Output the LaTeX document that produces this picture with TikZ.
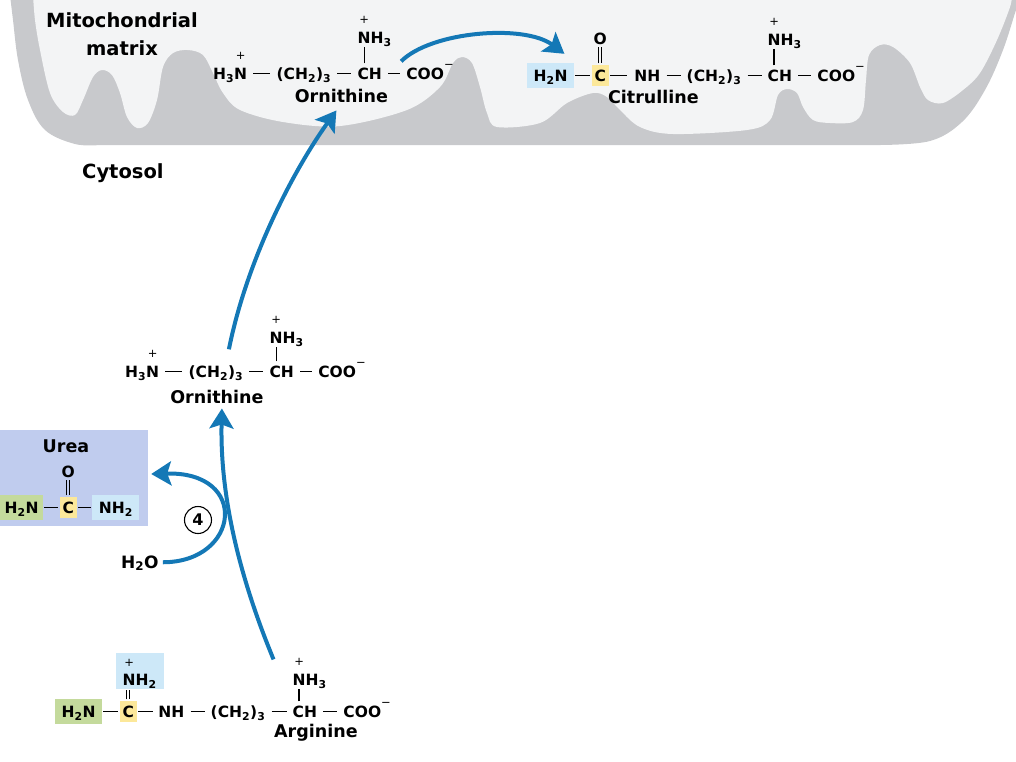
\documentclass[tikz,border=0pt]{standalone}
\usepackage{fontspec}
\setmainfont{DejaVu Sans}
\usepackage{tikz}
\usetikzlibrary{positioning,arrows.meta,calc}
\definecolor{arrowblue}{RGB}{20,120,182}
\definecolor{membrane}{RGB}{200,201,204}
\definecolor{matrixbg}{RGB}{243,244,245}
\definecolor{hlblue}{RGB}{205,232,248}
\definecolor{hlyellow}{RGB}{252,232,154}
\definecolor{hlgreen}{RGB}{196,218,156}
\definecolor{ureabg}{RGB}{192,204,238}
% charge set over a letter, and the anion sign
\newcommand\chg[2]{\ooalign{#1\cr\hidewidth\raisebox{19.5pt}{\fontsize{11.5}{11.5}\mdseries#2}\hidewidth\cr}}
\newcommand\anion{\raisebox{11pt}{\fontsize{11.5}{11.5}\mdseries −}}
\tikzset{
    >={Stealth[length=20pt,width=24pt,inset=4pt]},
    grp/.style={
        font=\fontsize{15.5}{15.5}\selectfont\bfseries,
        inner sep=0pt,
        text height=13.5pt,
        text depth=2pt
    },
    hl/.style={grp, fill=#1, inner xsep=6.5pt, inner ysep=4.5pt},
    hlc/.style={grp, fill=hlyellow, inner xsep=3pt, inner ysep=3pt},
    bond/.style={line width=1.4pt, shorten <=#1, shorten >=#1},
    bond/.default=6pt,
    dbond/.style={line width=1.3pt, double=#1, double distance=1.8pt, shorten <=1pt, shorten >=1pt},
    molname/.style={font=\fontsize{17.5}{17.5}\selectfont\bfseries, inner sep=0pt},
    regionlbl/.style={font=\fontsize{19.5}{28}\selectfont\bfseries, inner sep=0pt, align=center},
    flow/.style={draw=arrowblue, line width=4pt, ->},
    enzyme/.style={circle, draw, line width=1.1pt, minimum size=27pt, inner sep=0pt,
        font=\fontsize{16}{16}\selectfont\bfseries},
}
\begin{document}
\begin{tikzpicture}[x=1pt,y=-1pt]
\useasboundingbox (0,0) rectangle (1016,761);
% mitochondrion
\fill[membrane] plot[smooth, tension=0.6] coordinates {(10,-5) (13,20) (18,60) (28,100) (45,130) (75,144) (100,145)}
    -- plot[smooth, tension=0.6] coordinates {(880,145) (930,141) (962,122) (985,90) (1003,50) (1016,10) (1022,-5)} -- cycle;
\fill[matrixbg] plot[smooth, tension=0.55] coordinates {(33,-5) (35,20) (40,50) (50,93) (63,112) (75,115) (83,100)
    (93,77) (102,70) (112,75) (120,93) (127,117) (137,128) (148,123) (157,100) (163,67) (173,53) (188,50) (203,55)
    (213,73) (223,93) (240,110) (283,122) (340,126) (407,110) (440,87) (453,63) (462,57) (472,63) (480,87) (487,113)
    (497,127) (540,123) (567,103) (593,93) (607,97) (620,110) (640,127) (673,134) (747,130) (770,120) (778,95)
    (787,89) (797,93) (803,107) (813,120) (830,123) (853,122) (863,110) (866,80) (869,55) (880,45) (893,47) (910,63)
    (920,87) (928,100) (943,103) (963,90) (980,73) (997,40) (1010,7) (1012,-5)} -- cycle;
\node[regionlbl, anchor=north] (mitolbl) at (122,12) {Mitochondrial\\matrix};
\node[regionlbl, anchor=base west] (cytolbl) at (82,178) {Cytosol};

% ornithine (matrix)
\node[grp, anchor=base west] (o1h3n) at (213,79) {H\textsubscript{3}\chg{N}{+}};
\node[grp, right=29pt of o1h3n] (o1ch2) {(CH\textsubscript{2})\textsubscript{3}};
\node[grp, right=26pt of o1ch2] (o1ch) {CH};
\node[grp, right=24pt of o1ch] (o1coo) {COO\anion};
\node[grp, above=20pt of o1ch.north west, anchor=south west] (o1nh3) {\chg{N}{+}H\textsubscript{3}};
\node[molname, anchor=base] (o1name) at ([xshift=10pt,yshift=-23pt]o1ch2.base east) {Ornithine};
\draw[bond] (o1h3n) -- (o1ch2);
\draw[bond] (o1ch2) -- (o1ch);
\draw[bond] (o1ch) -- (o1coo);
\draw[bond=2pt] ([xshift=7pt]o1ch.north west) -- ([xshift=7pt]o1nh3.south west);

% citrulline
\node[hl=hlblue, anchor=base west] (c1h2n) at (527,81) {H\textsubscript{2}N};
\node[hlc, right=17pt of c1h2n] (c1c) {C};
\node[grp, right=25pt of c1c] (c1nh) {NH};
\node[grp, right=26pt of c1nh] (c1ch2) {(CH\textsubscript{2})\textsubscript{3}};
\node[grp, right=26pt of c1ch2] (c1ch) {CH};
\node[grp, right=25pt of c1ch] (c1coo) {COO\anion};
\node[grp, above=18pt of c1c] (c1o) {O};
\node[grp, above=20pt of c1ch.north west, anchor=south west] (c1nh3) {\chg{N}{+}H\textsubscript{3}};
\node[molname, anchor=base] (c1name) at ([xshift=6pt,yshift=-22pt]c1nh.base) {Citrulline};
\draw[bond=1pt] (c1h2n) -- (c1c);
\draw[bond=1pt, shorten >=7pt] (c1c) -- (c1nh);
\draw[bond] (c1nh) -- (c1ch2);
\draw[bond] (c1ch2) -- (c1ch);
\draw[bond] (c1ch) -- (c1coo);
\draw[dbond=matrixbg] (c1c.north) -- (c1o.south);
\draw[bond=2pt] ([xshift=6.5pt]c1ch.north west) -- ([xshift=6.5pt]c1nh3.south west);

% ornithine (cytosol)
\node[grp, anchor=base west] (o2h3n) at (125,377) {H\textsubscript{3}\chg{N}{+}};
\node[grp, right=29pt of o2h3n] (o2ch2) {(CH\textsubscript{2})\textsubscript{3}};
\node[grp, right=26pt of o2ch2] (o2ch) {CH};
\node[grp, right=24pt of o2ch] (o2coo) {COO\anion};
\node[grp, above=18pt of o2ch.north west, anchor=south west] (o2nh3) {\chg{N}{+}H\textsubscript{3}};
\node[molname, anchor=base] (o2name) at ([xshift=1pt,yshift=-26pt]o2ch2.base) {Ornithine};
\draw[bond] (o2h3n) -- (o2ch2);
\draw[bond] (o2ch2) -- (o2ch);
\draw[bond] (o2ch) -- (o2coo);
\draw[bond=2pt] ([xshift=7pt]o2ch.north west) -- ([xshift=7pt]o2nh3.south west);

% urea
\node[fill=ureabg, minimum width=148pt, minimum height=96pt, inner sep=0pt] (ureabox) at (74,478) {};
\node[molname, anchor=base] (urealbl) at (66,452) {Urea};
\node[hl=hlgreen, inner xsep=4.5pt, anchor=base west] (u1h2n) at (0,513) {H\textsubscript{2}N};
\node[hlc, right=16pt of u1h2n] (u1c) {C};
\node[hl=hlblue, right=15pt of u1c] (u1nh2) {NH\textsubscript{2}};
\node[grp, above=17pt of u1c] (u1o) {O};
\draw[bond=1pt] (u1h2n) -- (u1c);
\draw[bond=1pt] (u1c) -- (u1nh2);
\draw[dbond=ureabg] (u1c.north) -- (u1o.south);

\node[grp, font=\fontsize{17}{17}\selectfont\bfseries, anchor=base west] (h2o) at (121,568) {H\textsubscript{2}O};
\node[enzyme] (e4) at (198,520) {4};

% arginine
\node[hl=hlgreen, anchor=base west] (a1h2n) at (55,717) {H\textsubscript{2}N};
\node[hlc, right=17pt of a1h2n] (a1c) {C};
\node[grp, right=21pt of a1c] (a1nh) {NH};
\node[grp, right=26pt of a1nh] (a1ch2) {(CH\textsubscript{2})\textsubscript{3}};
\node[grp, right=27pt of a1ch2] (a1ch) {CH};
\node[grp, right=26pt of a1ch] (a1coo) {COO\anion};
\node[hl=hlblue, text height=31pt, inner ysep=1.5pt, inner xsep=7pt,
    above=11pt of a1c.north west, anchor=south west, xshift=-4pt] (a1nh2) {\chg{N}{+}H\textsubscript{2}};
\node[grp, above=16pt of a1ch.north west, anchor=south west] (a1nh3) {\chg{N}{+}H\textsubscript{3}};
\node[molname, anchor=base] (a1name) at ([xshift=11pt,yshift=-20pt]a1ch.base) {Arginine};
\draw[bond=1pt] (a1h2n) -- (a1c);
\draw[bond=1pt, shorten >=5pt] (a1c) -- (a1nh);
\draw[bond] (a1nh) -- (a1ch2);
\draw[bond] (a1ch2) -- (a1ch);
\draw[bond] (a1ch) -- (a1coo);
\draw[dbond=white] (a1c.north) -- (a1c.north |- a1nh2.south);
\draw[bond=2pt] ([xshift=6.5pt]a1ch.north west) -- ([xshift=6.5pt]a1nh3.south west);

% reactions
\draw[flow] ([xshift=-5pt,yshift=4pt]o1coo.north west) .. controls +(30,-30) and +(-40,-30) .. ([xshift=-10pt,yshift=9pt]c1h2n.north east);
\draw[flow] ([xshift=13pt,yshift=14pt]o2ch2.north) .. controls +(18,-90) and +(-43,60) .. ([xshift=-5pt,yshift=-8pt]o1name.south);
\draw[flow] ([xshift=4pt]h2o.east) .. controls +(77,0) and +(99,-3) .. ([xshift=3pt,yshift=4pt]ureabox.east);
\draw[flow] ([xshift=-19pt,yshift=12pt]a1nh3.north west) .. controls +(-33,-80) and +(-2,90) .. ([xshift=5pt,yshift=-5pt]o2name.south);
\end{tikzpicture}
\end{document}
